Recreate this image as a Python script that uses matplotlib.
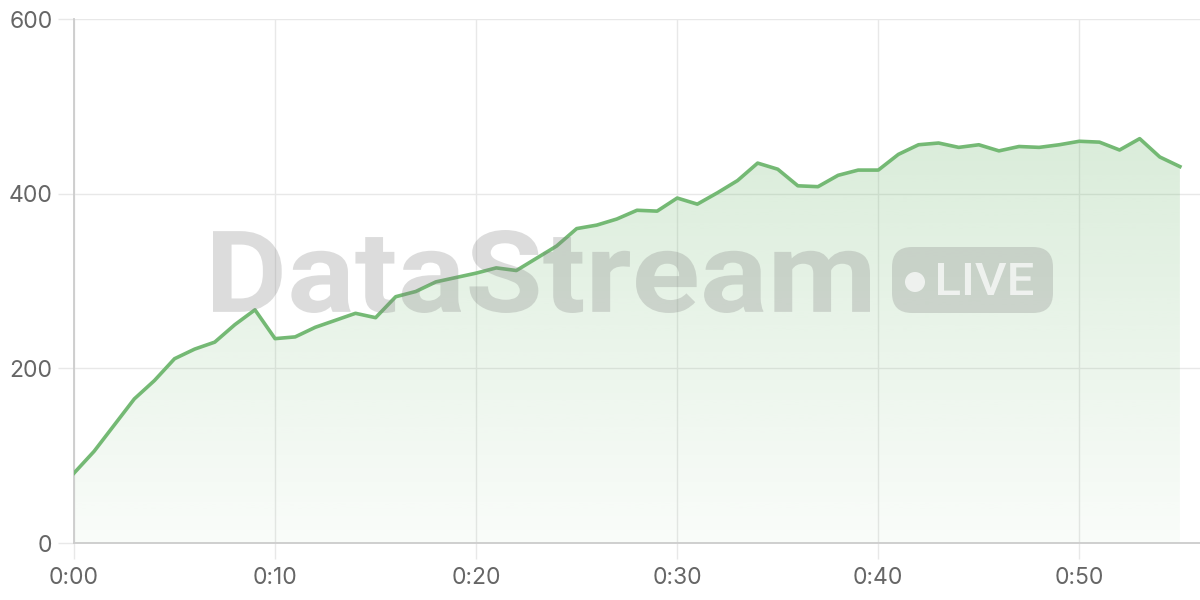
import numpy as np
import matplotlib
matplotlib.use("Agg")
import matplotlib.pyplot as plt
from matplotlib.patches import FancyBboxPatch, Circle, Polygon, PathPatch
from matplotlib.textpath import TextPath
from matplotlib.font_manager import FontProperties
from matplotlib.transforms import Affine2D

# values per minute, 0:00 .. 0:55
minutes = list(range(56))
values = [80, 105, 135, 165, 186, 211, 222, 230, 250, 267,
          234, 236, 247, 255, 263, 258, 282, 288, 299, 304,
          309, 315, 312, 326, 340, 360, 364, 371, 381, 380,
          395, 388, 401, 415, 435, 428, 409, 408, 421, 427,
          427, 445, 456, 458, 453, 456, 449, 454, 453, 456,
          460, 459, 450, 463, 442, 431]
x_ticks = [0, 10, 20, 30, 40, 50]
x_labels = ["0:00", "0:10", "0:20", "0:30", "0:40", "0:50"]
y_ticks = [0, 200, 400, 600]

plt.rcParams['font.family'] = ['Inter', 'DejaVu Sans']

line_color = '#74b974'
grid_color = '#e8e8e8'
H = 600  # figure height in px


def text_in_box(fig, s, prop, x0, y0, x1, y1, **kw):
    # draw text as a path stretched into a pixel box (y measured from top)
    tp = TextPath((0, 0), s, size=100, prop=prop)
    ext = tp.get_extents()
    tr = (Affine2D().translate(-ext.x0, -ext.y0)
          .scale((x1 - x0) / ext.width, (y1 - y0) / ext.height)
          .translate(x0, H - y1).scale(1 / 100) + fig.dpi_scale_trans)
    patch = PathPatch(tp, transform=tr, **kw)
    fig.add_artist(patch)
    return patch


fig = plt.figure(figsize=(12, 6), dpi=100)
ax = fig.add_axes([74 / 1200, 57 / 600, 1126 / 1200, 524 / 600])

# gradient fill under the line
grad = np.zeros((256, 1, 4))
grad[:, 0, 0] = 0x77 / 255
grad[:, 0, 1] = 0xbb / 255
grad[:, 0, 2] = 0x77 / 255
grad[:, 0, 3] = np.linspace(0.34, 0.04, 256)
img = ax.imshow(grad, extent=[0, 55, 0, 600], aspect='auto', zorder=1,
                interpolation='bilinear')
poly = Polygon(list(zip(minutes, values)) + [(55, 0), (0, 0)],
               closed=True, facecolor='none', edgecolor='none')
ax.add_patch(poly)
img.set_clip_path(poly)

ax.plot(minutes, values, color=line_color, linewidth=2.6, zorder=4,
        solid_joinstyle='round')
ax.set_xlim(0, 56)
ax.set_ylim(0, 600)

# grid / axes look
ax.set_xticks(x_ticks)
ax.set_xticklabels(x_labels)
ax.set_yticks(y_ticks)
ax.grid(True, color=grid_color, linewidth=1.0, zorder=0)
ax.set_axisbelow(True)
for s in ['top', 'right']:
    ax.spines[s].set_visible(False)
for s in ['left', 'bottom']:
    ax.spines[s].set_color('#cccccc')
    ax.spines[s].set_linewidth(1.3)
ax.tick_params(axis='both', length=11.5, color=grid_color, width=1.0,
               labelsize=16.5, labelcolor='#666666')
ax.tick_params(axis='y', pad=4)
ax.tick_params(axis='x', pad=6)

# watermark
wm_color = '#808080'
text_in_box(fig, "DataStream", FontProperties(family='Roboto', weight='bold'),
            213, 230, 870, 313, facecolor=wm_color, edgecolor='none',
            alpha=0.27, zorder=3)

badge = FancyBboxPatch((8.92, (H - 313) / 100), 1.61, 0.66,
                       boxstyle="round,pad=0,rounding_size=0.2",
                       transform=fig.dpi_scale_trans, facecolor=wm_color,
                       edgecolor='none', alpha=0.27, zorder=3)
fig.add_artist(badge)
fig.add_artist(Circle((9.15, (H - 282) / 100), 0.10, transform=fig.dpi_scale_trans,
                      facecolor='white', edgecolor='none', alpha=0.7, zorder=3))
text_in_box(fig, "LIVE", FontProperties(family='Roboto', weight='medium'),
            938, 263, 1033, 295, facecolor='white', edgecolor='none',
            alpha=0.7, zorder=3)

fig.savefig("out.png", dpi=100)
